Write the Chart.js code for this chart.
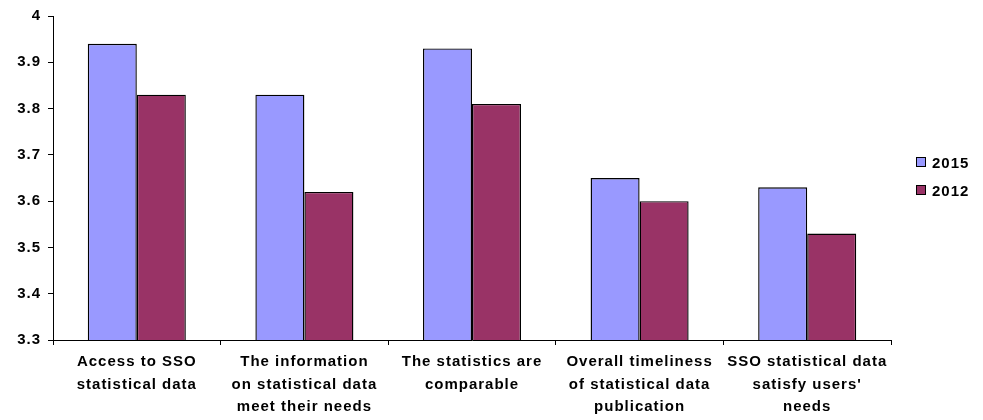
<!DOCTYPE html>
<html>
<head>
<meta charset="utf-8">
<script src="https://cdn.jsdelivr.net/npm/chart.js@4/dist/chart.umd.min.js"></script>
<style>
    body { margin: 0; background: #ffffff; }
    #wrap { position: relative; width: 983px; height: 420px; }
    #legenda {
        position: absolute;
        left: 916px;
        top: 148px;
        font: bold 15px "Liberation Sans", Arial, sans-serif;
        letter-spacing: 1px;
        color: #000;
    }
    .item { display: flex; align-items: center; height: 28px; }
    .caixa { width: 8px; height: 8px; border: 1px solid #000; margin-right: 6px; }
</style>
</head>
<body>
<div id="wrap">
    <canvas id="qualidadeChart"></canvas>
    <div id="legenda"></div>
</div>
<script>
const categorias = [
    ["Access to SSO", "statistical data"],
    ["The information", "on statistical data", "meet their needs"],
    ["The statistics are", "comparable"],
    ["Overall timeliness", "of statistical data", "publication"],
    ["SSO statistical data", "satisfy users'", "needs"]
];

const valores2015 = [3.94, 3.83, 3.93, 3.65, 3.63];
const valores2012 = [3.83, 3.62, 3.81, 3.60, 3.53];

const ticksY = [3.3, 3.4, 3.5, 3.6, 3.7, 3.8, 3.9, 4];

const fonte = { family: "'Liberation Sans', Arial, sans-serif", size: 15, weight: "bold" };

// espaçamento entre letras, como no original
const espacamento = {
    id: "espacamento",
    beforeUpdate(chart) { chart.ctx.letterSpacing = "1px"; },
    beforeLayout(chart) { chart.ctx.letterSpacing = "1px"; },
    beforeDraw(chart) { chart.ctx.letterSpacing = "1px"; }
};

const ctx = document.getElementById("qualidadeChart").getContext("2d");

const grafico = new Chart(ctx, {
    type: "bar",
    plugins: [espacamento],
    data: {
        labels: categorias,
        datasets: [
            {
                label: "2015",
                data: valores2015,
                backgroundColor: "#9999ff",
                borderColor: "#000000",
                borderWidth: 1.4
            },
            {
                label: "2012",
                data: valores2012,
                backgroundColor: "#993366",
                borderColor: "#000000",
                borderWidth: 1.4
            }
        ]
    },
    options: {
        responsive: true,
        maintainAspectRatio: false,
        animation: false,
        layout: {
            padding: { top: 14, right: 92, left: 0, bottom: 0 }
        },
        datasets: {
            bar: { barPercentage: 1, categoryPercentage: 0.585 }
        },
        plugins: {
            legend: { display: false },
            tooltip: { enabled: false }
        },
        scales: {
            x: {
                afterFit(scale) { scale.height = 80; },
                border: { color: "#000000", width: 1 },
                grid: {
                    drawOnChartArea: false,
                    tickLength: 5,
                    color: "#000000"
                },
                ticks: {
                    color: "#000000",
                    font: { ...fonte, lineHeight: 1.5 },
                    padding: 6,
                    maxRotation: 0,
                    autoSkip: false
                }
            },
            y: {
                min: 3.3,
                max: 4,
                afterFit(scale) { scale.width = 53; },
                afterBuildTicks(scale) {
                    scale.ticks = ticksY.map(v => ({ value: v }));
                },
                border: { color: "#000000", width: 1 },
                grid: {
                    drawOnChartArea: false,
                    tickLength: 5,
                    color: "#000000"
                },
                ticks: {
                    color: "#000000",
                    font: fonte,
                    padding: 7,
                    callback: v => String(+v.toFixed(1))
                }
            }
        }
    }
});

// legenda em HTML
const legenda = document.getElementById("legenda");
grafico.data.datasets.forEach(ds => {
    const item = document.createElement("div");
    item.className = "item";
    const caixa = document.createElement("span");
    caixa.className = "caixa";
    caixa.style.background = ds.backgroundColor;
    const texto = document.createElement("span");
    texto.textContent = ds.label;
    item.appendChild(caixa);
    item.appendChild(texto);
    legenda.appendChild(item);
});
</script>
</body>
</html>
